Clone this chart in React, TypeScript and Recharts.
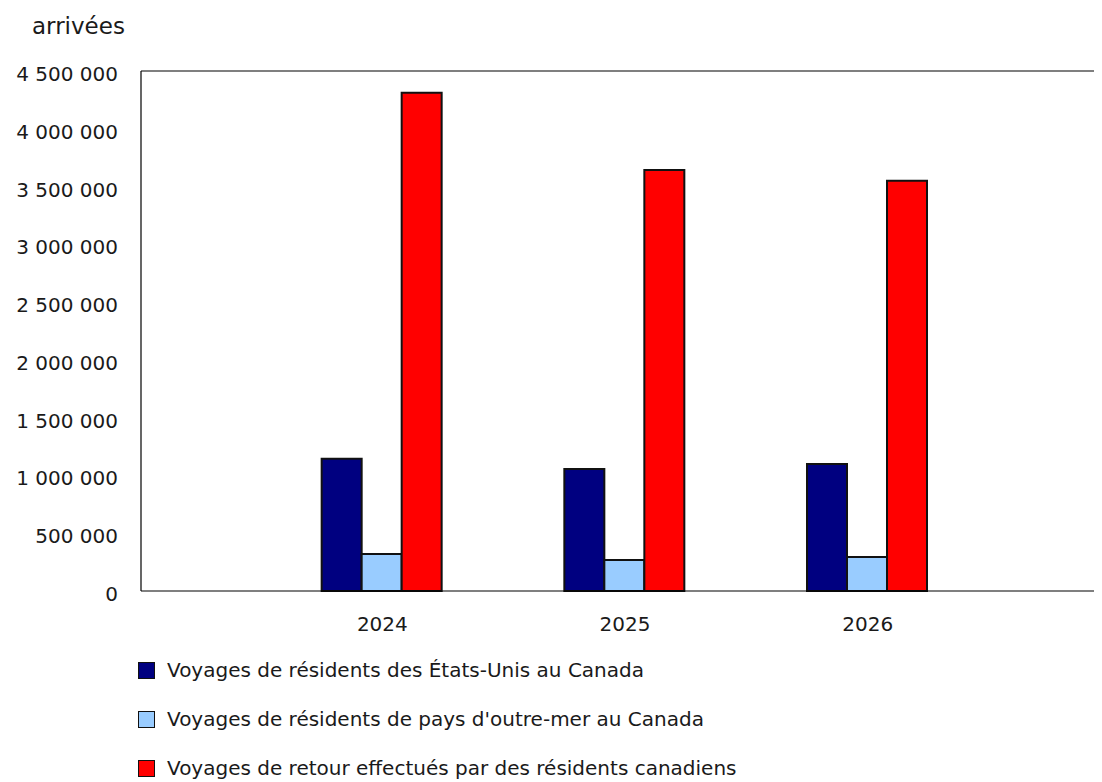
import React from 'react';
import { BarChart, Bar, XAxis, YAxis, Legend, ReferenceLine, Customized } from 'recharts';

const years = ['2024', '2025', '2026'];
const usResidents = [1145000, 1056000, 1099000];
const overseasResidents = [320000, 268000, 294000];
const canadianReturns = [4312000, 3643000, 3551000];
const yTicks = [0, 500000, 1000000, 1500000, 2000000, 2500000, 3000000, 3500000, 4000000, 4500000];
const yTitle = 'arrivées';

const seriesNames = [
  'Voyages de résidents des États-Unis au Canada',
  "Voyages de résidents de pays d'outre-mer au Canada",
  'Voyages de retour effectués par des résidents canadiens',
];
const seriesColors = ['#000080', '#99CCFF', '#FF0000'];

const data = years.map((y, i) => ({
  year: y,
  us: usResidents[i],
  overseas: overseasResidents[i],
  canadian: canadianReturns[i],
}));

const FONT = '"DejaVu Sans", Verdana, sans-serif';

const fmt = (v: number) => String(v).replace(/\B(?=(\d{3})+(?!\d))/g, ' ');

const YTick = (props: any) => {
  const { x, y, payload } = props;
  return (
    <text x={x} y={y} dy={10} textAnchor="end" fontSize={20} fontFamily={FONT} fill="#1a1a1a">
      {fmt(payload.value)}
    </text>
  );
};

const XTick = (props: any) => {
  const { x, y, payload } = props;
  return (
    <text x={x} y={y} dy={14} textAnchor="middle" fontSize={20} fontFamily={FONT} fill="#1a1a1a">
      {payload.value}
    </text>
  );
};

const LegendContent = () => (
  <div style={{ position: 'relative', width: 1094, height: 151, fontFamily: FONT }}>
    {seriesNames.map((name, i) => (
      <div
        key={name}
        style={{
          position: 'absolute',
          left: 130,
          top: 30 + i * 49,
          height: 18,
          display: 'flex',
          alignItems: 'center',
          whiteSpace: 'nowrap',
        }}
      >
        <span
          style={{
            display: 'inline-block',
            width: 15,
            height: 15,
            background: seriesColors[i],
            border: '1.5px solid #111',
            marginRight: 12,
          }}
        />
        <span style={{ fontSize: 20, color: '#1a1a1a', lineHeight: '18px' }}>{name}</span>
      </div>
    ))}
  </div>
);

const Title = () => (
  <text x={24} y={26} fontSize={23} fontFamily={FONT} fill="#1a1a1a">
    {yTitle}
  </text>
);

export default function App() {
  return (
    <div style={{ fontFamily: FONT }}>
      <BarChart
        width={1094}
        height={774}
        data={data}
        margin={{ top: 63, right: 0, left: 0, bottom: 0 }}
        barCategoryGap="25%"
        barGap={0}
      >
        <XAxis
          dataKey="year"
          height={40}
          tickSize={0}
          tickMargin={26}
          tick={<XTick />}
          padding={{ left: 120, right: 113 }}
          axisLine={{ stroke: '#000', strokeWidth: 1.2 }}
          tickLine={false}
        />
        <YAxis
          width={133}
          domain={[0, 4500000]}
          ticks={yTicks}
          interval={0}
          tickSize={0}
          tickMargin={23}
          tick={<YTick />}
          axisLine={{ stroke: '#000', strokeWidth: 1.2 }}
          tickLine={false}
        />
        <ReferenceLine y={4500000} stroke="#000" strokeWidth={1.2} ifOverflow="visible" />
        <Bar dataKey="us" name={seriesNames[0]} fill={seriesColors[0]} stroke="#111" strokeWidth={2} isAnimationActive={false} />
        <Bar dataKey="overseas" name={seriesNames[1]} fill={seriesColors[1]} stroke="#111" strokeWidth={2} isAnimationActive={false} />
        <Bar dataKey="canadian" name={seriesNames[2]} fill={seriesColors[2]} stroke="#111" strokeWidth={2} isAnimationActive={false} />
        <Legend
          verticalAlign="bottom"
          align="left"
          content={<LegendContent />}
          wrapperStyle={{ left: 0, bottom: 0, width: 1094, height: 151 }}
        />
        <Customized component={<Title />} />
      </BarChart>
    </div>
  );
}
